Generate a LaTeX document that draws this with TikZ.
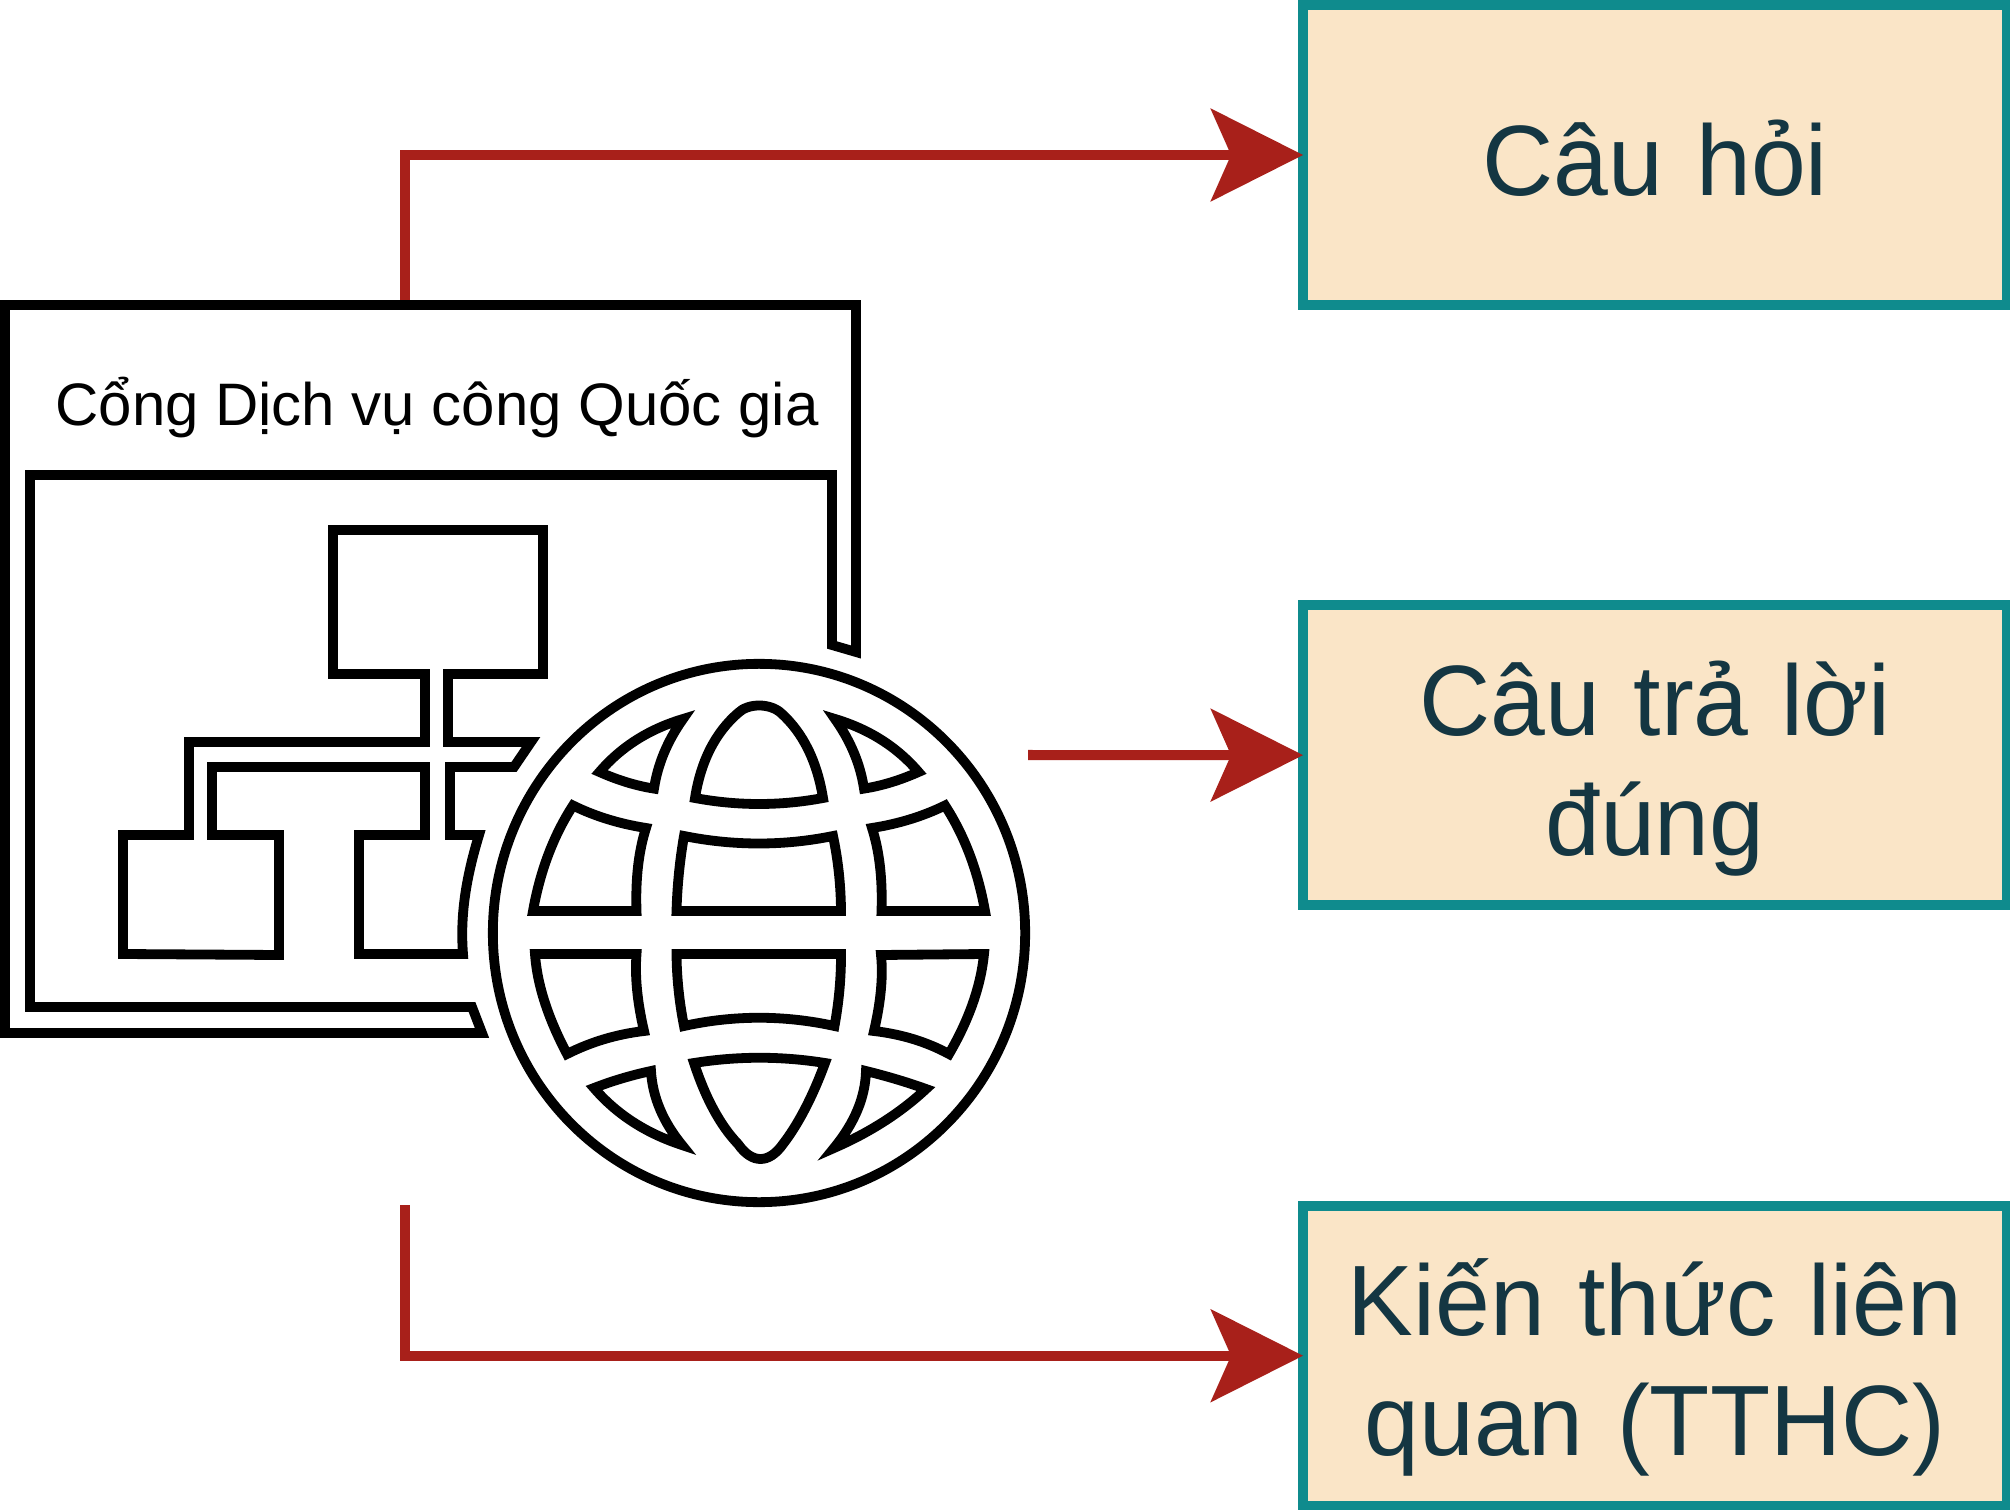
\documentclass[tikz,border=0pt]{standalone}
\usepackage{fontspec}
\setmainfont{Liberation Sans}
\newfontfamily\boxfont[FakeStretch=.985]{Liberation Sans}
\usepackage{xcolor}
\usepackage{tikz}
\usetikzlibrary{arrows.meta,positioning,shapes.geometric}
\definecolor{boxfill}{HTML}{FAE5C7}
\definecolor{boxline}{HTML}{0F8B8D}
\definecolor{boxtext}{HTML}{143642}
\definecolor{arrline}{HTML}{A8201A}
\newcommand{\linetop}{\rule{0pt}{1.25cm}}
\newcommand{\linebot}{\rule[-.45cm]{0pt}{0pt}}

\begin{document}
\begin{tikzpicture}[x=0.01cm,y=-0.01cm,node distance=3cm]
\tikzset{box/.style={draw=boxline, fill=boxfill, text=boxtext, line width=.1cm, outer sep=0pt, inner ysep=0pt, minimum width=7cm, minimum height=3cm, text width=6.8cm, align=center, font=\boxfont\fontsize{28.45}{34.14}\selectfont}, arr/.style={-{Stealth[length=.92cm,width=.92cm,inset=.2cm]}, line width=.1cm, draw=arrline}, outline/.style={draw=black, line width=.098cm, miter limit=10, fill=white}}
\useasboundingbox (0,0) rectangle (2010,1510);
\node[box] (question) at (1655,155) {\linetop Câu hỏi\linebot};
\node[box, below=of question] (answer) {\linetop Câu trả lời\\đúng\linebot};
\node[box, below=of answer] (related) {\linetop Kiến thức liên\\quan (TTHC)\linebot};
\coordinate (portaltop) at (405,305);
\coordinate (globeright) at (1028,755);
\coordinate (portalbottom) at (405,1205);
\draw[arr] (portaltop) |- (question);
\draw[arr] (globeright) -- (answer);
\draw[arr] (portalbottom) |- (related);
\draw[outline] (5,305) -- (856,305) -- (856,652) -- (832,645) -- (832,475) -- (30,475) -- (30,1007) -- (472,1007) -- (482,1033) -- (5,1033) -- cycle;
\node[anchor=base, font=\fontsize{17.05}{20}\selectfont] (portal) at (437,426) {Cổng Dịch vụ công Quốc gia};
\draw[outline] (425,674) -- (425,742) -- (189,742) -- (189,835) -- (123,835) -- (123,954) -- (279,955) -- (279,835) -- (212,835) -- (212,767) -- (425,767) -- (425,835) -- (359,835) -- (359,954) -- (463,954) .. controls (460,915) and (466,878) .. (479,835) -- (450,835) -- (450,767) -- (514,767) -- (531,742) -- (448,742) -- (448,674) -- (543,674) -- (543,530) -- (333,530) -- (333,674) -- cycle;
\node[ellipse, draw=black, line width=.098cm, fill=white, minimum width=5.32cm, minimum height=5.38cm] (globe) at (759,933) {};
\draw[outline] (695,798) .. controls (700.8,761.2) and (715.2,732.8) .. (738,713) .. controls (748,703) and (770,703) .. (781,713) .. controls (803,732.8) and (817,761.2) .. (823,798) .. controls (780.3,806) and (737.7,806) .. cycle;
\draw[outline] (599.5,772) .. controls (621.1,746.8) and (648.9,729.2) .. (683,719) .. controls (667.3,741.1) and (657.7,764.3) .. (654,788.6) .. controls (636.1,785.8) and (617.9,780.2) .. cycle;
\draw[outline] (918.5,772) .. controls (896.9,746.8) and (869.1,729.2) .. (835,719) .. controls (850.7,741.1) and (860.3,764.3) .. (864,788.6) .. controls (881.9,785.8) and (900.1,780.2) .. cycle;
\draw[outline] (533,911) .. controls (540.2,870.6) and (553.6,835.4) .. (573,805.5) .. controls (594.8,816.2) and (619.2,823.8) .. (646,828) .. controls (638.6,851.2) and (635.4,878.8) .. (636.5,911) -- cycle;
\draw[outline] (676.5,911) .. controls (677.25,885.5) and (679.75,860.5) .. (684,836) .. controls (734.2,846) and (783.8,846) .. (833,836) .. controls (838.2,860.5) and (840.8,885.5) .. (841,911) -- cycle;
\draw[outline] (985,911) .. controls (977.8,870.6) and (964.4,835.4) .. (945,805.5) .. controls (923.2,816.2) and (898.8,823.8) .. (872,828) .. controls (879.4,851.2) and (882.6,878.8) .. (881.5,911) -- cycle;
\draw[outline] (535,954) -- (636.5,954) .. controls (634.75,976.2) and (637.25,1001.8) .. (644,1031) .. controls (616.8,1034.2) and (591.2,1041.8) .. (567,1054) .. controls (548.8,1019.4) and (537.2,986) .. cycle;
\draw[outline] (676.5,954) -- (841,954) .. controls (841.1,978) and (838.9,1002) .. (834.5,1026) .. controls (784,1015) and (734,1015) .. (684,1026) .. controls (679.25,1002) and (676.75,978) .. cycle;
\draw[outline] (881,955) -- (984,954) .. controls (980.8,986) and (969.2,1019.4) .. (949,1054) .. controls (926.5,1041.8) and (901.5,1034.2) .. (874,1031) .. controls (880.8,1001.7) and (883.2,976.3) .. cycle;
\draw[outline] (594,1088) .. controls (612.5,1080.8) and (631.5,1075.2) .. (651,1071) .. controls (652.5,1097.5) and (663.5,1122.5) .. (682,1145) .. controls (646,1133.3) and (616.6,1114.3) .. cycle;
\draw[outline] (694,1063) .. controls (737.7,1056) and (781.3,1056) .. (825,1063) .. controls (812,1098.5) and (797,1126) .. (783,1144) .. controls (769,1164) and (752,1164) .. (738,1144) .. controls (720.3,1125.5) and (705.7,1098.5) .. cycle;
\draw[outline] (926,1089) .. controls (903.2,1080.8) and (882.8,1075.2) .. (866,1071) .. controls (865.3,1097.2) and (854.7,1122.8) .. (834,1148) .. controls (870,1132.3) and (900.6,1112.7) .. cycle;
\end{tikzpicture}
\end{document}
